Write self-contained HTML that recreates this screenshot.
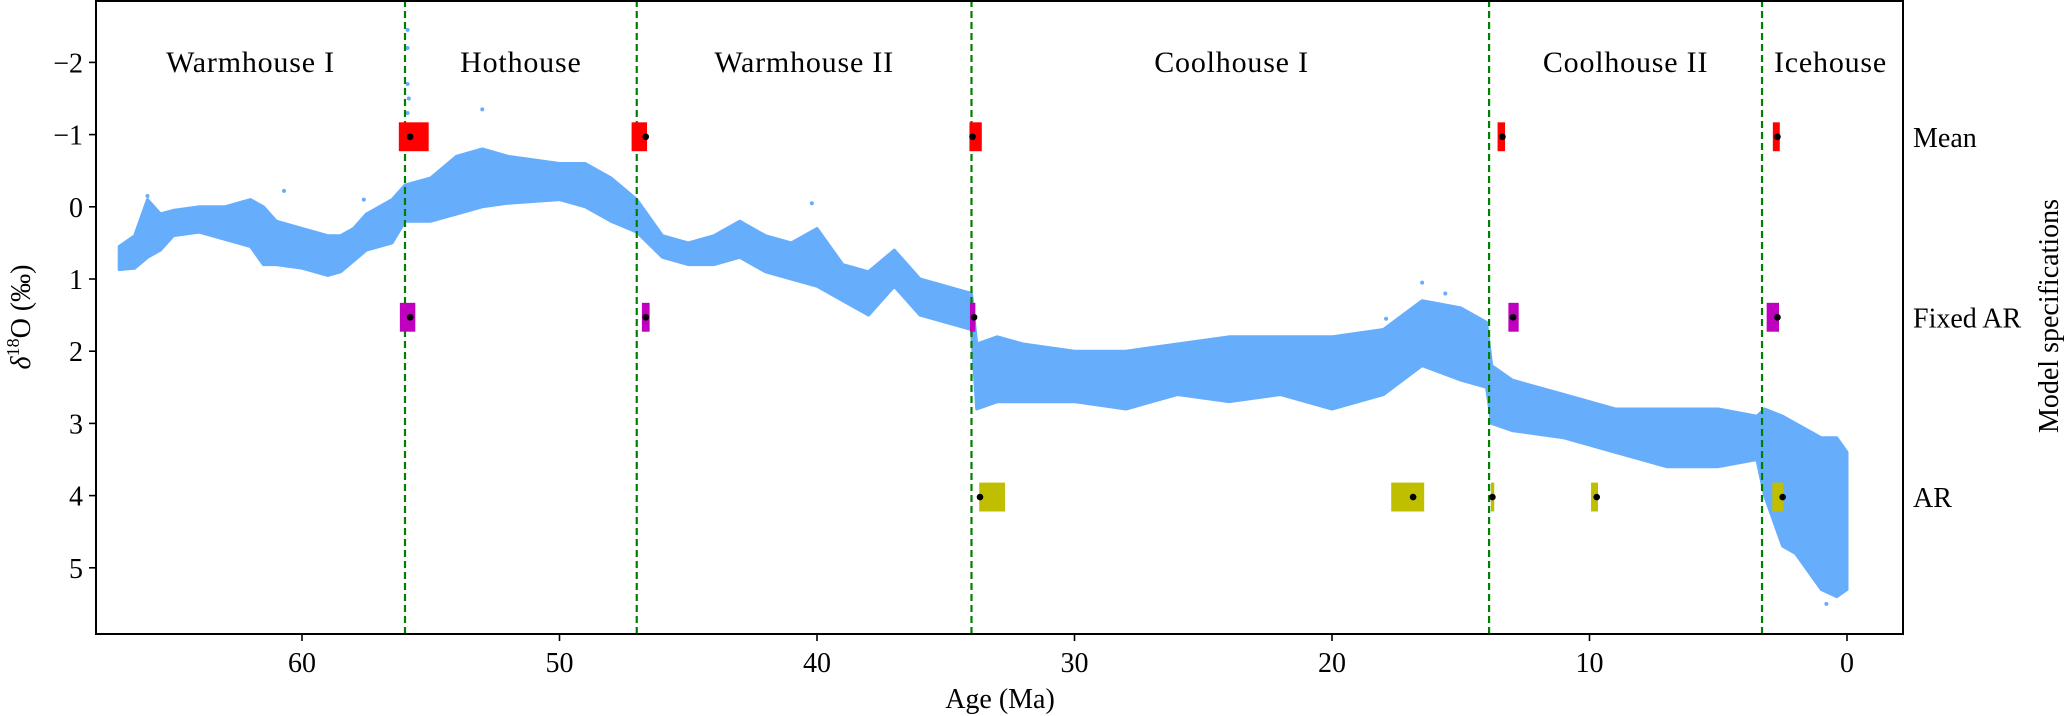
<!DOCTYPE html>
<html><head><meta charset="utf-8"><style>
html,body{margin:0;padding:0;background:#fff;}
svg{display:block;font-family:"Liberation Serif","DejaVu Serif",serif;}
</style></head><body>
<svg id="chart" width="2067" height="716" viewBox="0 0 2067 716" xmlns="http://www.w3.org/2000/svg">
<g id="plot"></g>
</svg>
<script>
const envAge=[67.1,66.5,66.0,65.5,65,64,63,62,61.5,61,60,59,58.5,58,57.5,57,56.5,56,55,54,53,52,50,49,48,47,46,45,44,43,42,41,40,39,38,37,36,35,34,33.8,33,32,30,28,26,24,22,20,18,16.5,15,14,13.8,13,11,9,7,5,3.5,3.2,2.5,2,1,0.4,0];
const envTop=[0.55,0.4,-0.1,0.1,0.05,0.0,0.0,-0.1,0.0,0.2,0.3,0.4,0.4,0.3,0.1,0.0,-0.1,-0.3,-0.4,-0.7,-0.8,-0.7,-0.6,-0.6,-0.4,-0.1,0.4,0.5,0.4,0.2,0.4,0.5,0.3,0.8,0.9,0.6,1.0,1.1,1.2,1.9,1.8,1.9,2.0,2.0,1.9,1.8,1.8,1.8,1.7,1.3,1.4,1.6,2.2,2.4,2.6,2.8,2.8,2.8,2.9,2.8,2.9,3.0,3.2,3.2,3.4];
const envBottom=[0.87,0.85,0.7,0.6,0.4,0.35,0.45,0.55,0.8,0.8,0.85,0.95,0.9,0.75,0.6,0.55,0.5,0.2,0.2,0.1,0.0,-0.05,-0.1,0.0,0.2,0.35,0.7,0.8,0.8,0.7,0.9,1.0,1.1,1.3,1.5,1.1,1.5,1.6,1.7,2.8,2.7,2.7,2.7,2.8,2.6,2.7,2.6,2.8,2.6,2.2,2.4,2.5,3.0,3.1,3.2,3.4,3.6,3.6,3.5,4.0,4.7,4.8,5.3,5.4,5.3];
const outAge=[55.9,55.9,55.9,55.85,55.9,53,66.0,60.7,57.6,40.2,17.9,16.5,15.6,1.3,0.8];
const outVal=[-2.45,-2.2,-1.7,-1.5,-1.3,-1.35,-0.15,-0.22,-0.1,-0.05,1.55,1.05,1.2,3.3,5.5];
const boundaries=[56,47,34,13.9,3.3];
const regionNames=["Warmhouse I","Hothouse","Warmhouse II","Coolhouse I","Coolhouse II","Icehouse"];
const regionCenters=[62.0,51.5,40.5,23.9,8.6,0.64];
const xTicks=[60,50,40,30,20,10,0];
const yTicks=[-2,-1,0,1,2,3,4,5];
const rowNames=["Mean","Fixed AR","AR"];
const rowVals=[-0.97,1.53,4.02];
const meanLo=[56.24,47.2,34.08,13.57,2.88], meanHi=[55.08,46.6,33.6,13.28,2.61], meanDot=[55.8,46.65,33.96,13.38,2.70];
const fixLo=[56.2,46.8,34.06,13.15,3.12], fixHi=[55.6,46.5,33.85,12.75,2.64], fixDot=[55.8,46.65,33.9,12.97,2.70];
const arLo=[33.7,17.7,13.83,9.94,2.9], arHi=[32.7,16.42,13.7,9.67,2.47], arDot=[33.67,16.85,13.77,9.72,2.5];

const L=96,R=1903,T=0,B=634;
const X=a=>1847-25.75*a;
const Y=v=>206.8+72.2*v;
const NS="http://www.w3.org/2000/svg";
const svg=document.getElementById('chart');
function mk(tag,attrs,parent){const e=document.createElementNS(NS,tag);for(const k in attrs)e.setAttribute(k,attrs[k]);(parent||svg).appendChild(e);return e;}

let pts=[];
for(let i=0;i<envAge.length;i++)pts.push(X(envAge[i]).toFixed(1)+','+Y(envTop[i]).toFixed(1));
for(let i=envAge.length-1;i>=0;i--)pts.push(X(envAge[i]).toFixed(1)+','+Y(envBottom[i]).toFixed(1));
const band=mk('polygon',{points:pts.join(' '),fill:'#66adfc',stroke:'#66adfc','stroke-width':3,'stroke-linejoin':'round'});


for(let i=0;i<outAge.length;i++){
  const c=mk('circle',{cx:X(outAge[i]),cy:Y(outVal[i]),r:2,fill:'#66adfc'});
  
  
}
boundaries.forEach(b=>{
  const l=mk('line',{x1:X(b),x2:X(b),y1:T,y2:B,stroke:'#008000','stroke-width':2.2,'stroke-dasharray':'7,4'});
  
  
});
regionNames.forEach((n,i)=>{
  const t=mk('text',{x:X(regionCenters[i]),y:72,'text-anchor':'middle','font-size':30,'letter-spacing':'0.8',fill:'#000'});
  t.textContent=n;
  
  
});
function drawRow(lo,hi,dot,val,color,name){
  for(let i=0;i<lo.length;i++){
    const r=mk('rect',{x:X(lo[i]),y:Y(val-0.2),width:X(hi[i])-X(lo[i]),height:Y(val+0.2)-Y(val-0.2),fill:color});
    
    
    const d=mk('circle',{cx:X(dot[i]),cy:Y(val),r:3.3,fill:'#000'});
    
    
  }
}
drawRow(meanLo,meanHi,meanDot,rowVals[0],'#ff0000','mean');
drawRow(fixLo,fixHi,fixDot,rowVals[1],'#bf00bf','fixed-ar');
drawRow(arLo,arHi,arDot,rowVals[2],'#bfbf00','ar');
const fr=mk('rect',{x:L,y:T+1,width:R-L,height:B-T-1,fill:'none',stroke:'#000','stroke-width':2});


xTicks.forEach(t=>{
  const tk=mk('line',{x1:X(t),x2:X(t),y1:B,y2:B+7,stroke:'#000','stroke-width':1.6});
  
  
  const lb=mk('text',{x:X(t),y:672,'text-anchor':'middle','font-size':28});
  lb.textContent=String(t);
  
  
});
yTicks.forEach(t=>{
  const tk=mk('line',{x1:L-7,x2:L,y1:Y(t),y2:Y(t),stroke:'#000','stroke-width':1.6});
  
  
  const lb=mk('text',{x:83,y:Y(t)+10,'text-anchor':'end','font-size':28});
  lb.textContent=t<0?'\u2212'+(-t):String(t);
  
  
});
rowNames.forEach((n,i)=>{
  const lb=mk('text',{x:1913,y:Y(rowVals[i])+10,'font-size':28});
  lb.textContent=n;
  
  
});
const xt=mk('text',{x:1000,y:708,'text-anchor':'middle','font-size':28});
xt.textContent='Age (Ma)';


const yt=mk('text',{x:0,y:0,'text-anchor':'middle','font-size':28,transform:'translate(30,317) rotate(-90)'});
yt.innerHTML='<tspan font-style="italic">δ</tspan><tspan font-size="18" dy="-11">18</tspan><tspan dy="11">O (‰)</tspan>';


const rt=mk('text',{x:0,y:0,'text-anchor':'middle','font-size':28,transform:'translate(2058,316) rotate(-90)'});
rt.textContent='Model specifications';


</script>
</body></html>
